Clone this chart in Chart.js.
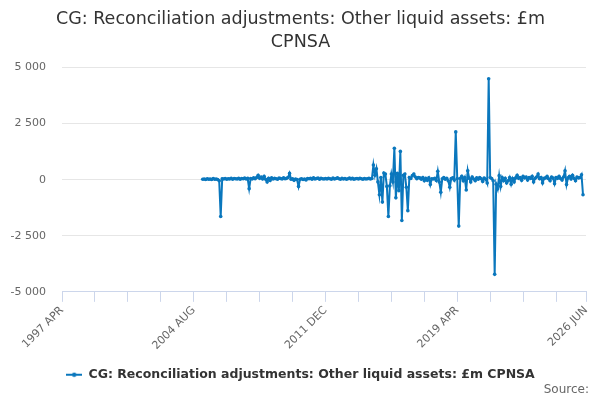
<!DOCTYPE html>
<html><head><meta charset="utf-8">
<script src="https://cdn.jsdelivr.net/npm/chart.js@4.4.1/dist/chart.umd.min.js"></script>
<style>html,body{margin:0;padding:0;background:#fff}</style>
</head><body>
<canvas id="c" width="600" height="400"></canvas>
<script>
// ---- text ----
const titleLines = ["CG: Reconciliation adjustments: Other liquid assets: £m", "CPNSA"];
const seriesName = "CG: Reconciliation adjustments: Other liquid assets: £m CPNSA";
const sourceText = "Source:";

// ---- axis categories ----
const monthNames = ["JAN","FEB","MAR","APR","MAY","JUN","JUL","AUG","SEP","OCT","NOV","DEC"];
const axisStart = [1997, 3];   // 1997 APR
const axisEnd = [2026, 5];     // 2026 JUN
const dataStart = [2005, 1];   // 2005 FEB
const xLabelTicks = ["1997 APR", "2004 AUG", "2011 DEC", "2019 APR", "2026 JUN"];
const tickStepMonths = 22;
const yTicks = [-5000, -2500, 0, 2500, 5000];

// ---- series values (£m), monthly from 2005 FEB ----
const v2005 = [20, 30, 10, 40, 20, 30, 10, 50, 20, 30, 10];
const v2006 = [-50, -1640, 40, 30, 50, 20, 40, 30, 60, 20, 50, 40];
const v2007 = [30, 60, 20, 50, 40, 70, 30, 60, -400, 50, 30, 80];
const v2008 = [40, 100, 200, 60, 120, 30, 150, 20, -100, 60, -40, 80];
const v2009 = [30, 60, 40, 20, 70, 50, 30, 80, 40, 60, 100, 280];
const v2010 = [20, 40, -30, 30, 10, -300, 20, 40, 10, 30, -10, 50];
const v2011 = [40, 60, 20, 80, 30, 50, 70, 20, 60, 40, 30, 50];
const v2012 = [30, 60, 40, 20, 70, 30, 50, 80, 40, 20, 60, 30];
const v2013 = [50, 20, 40, 70, 30, 60, 20, 40, 50, 30, 60, 40];
const v2014 = [20, 50, 30, 40, 60, 30, 50, 650, 200, 490, -100, -670];
const v2015 = [100, -1000, 300, 250, -300, -1640, -270, 250, -100, 1400, -810, 280];
const v2016 = [-490, 1260, -1820, 200, 250, -340, -1380, 100, 50, 180, 250, 120];
const v2017 = [40, 100, 80, 20, 100, -50, 60, -30, 80, -220, 40, 30];
const v2018 = [60, -40, 370, -100, -560, 40, 100, 20, 60, -50, -340, 50];
const v2019 = [80, -20, 2130, 50, -2070, 50, 150, -50, 100, -460, 400, 60];
const v2020 = [-100, 120, 30, -50, 80, 20, 100, 40, -80, 70, 20, -150];
const v2021 = [4500, 100, 50, -50, -4220, -200, -410, 180, -300, 100, -50, 60];
const v2022 = [-150, -50, 100, -200, 50, -100, 80, 200, 60, 100, -30, 150];
const v2023 = [80, 120, -20, 100, 50, 150, -100, 60, 120, 250, 40, 100];
const v2024 = [-150, 60, 80, 150, 40, -50, 120, 70, -180, 100, 60, 150];
const v2025 = [50, -20, 120, 400, -220, 80, 150, 30, 200, 60, -50, 120];
const v2026 = [80, 100, 220, -670];

const values = [].concat(v2005, v2006, v2007, v2008, v2009, v2010, v2011, v2012,
  v2013, v2014, v2015, v2016, v2017, v2018, v2019, v2020, v2021, v2022, v2023,
  v2024, v2025, v2026);

// build category labels and aligned data
const labels = [];
for (let y = axisStart[0], m = axisStart[1]; y < axisEnd[0] || (y === axisEnd[0] && m <= axisEnd[1]); ) {
  labels.push(y + " " + monthNames[m]);
  m++; if (m > 11) { m = 0; y++; }
}
const startIdx = labels.indexOf(dataStart[0] + " " + monthNames[dataStart[1]]);
const data = labels.map((_, i) => {
  const k = i - startIdx;
  return (k >= 0 && k < values.length) ? values[k] : null;
});

const fmt = v => {
  const s = Math.abs(v).toString().replace(/\B(?=(\d{3})+(?!\d))/g, " ");
  return (v < 0 ? "-" : "") + s;
};

const FONT = "'DejaVu Sans', sans-serif";
const BLUE = "#0a77bd";

// legend marker: short line with a dot (series style)
const marker = document.createElement("canvas");
marker.width = 16; marker.height = 6;
(function () {
  const m = marker.getContext("2d");
  m.strokeStyle = BLUE; m.lineWidth = 2;
  m.beginPath(); m.moveTo(0, 3); m.lineTo(16, 3); m.stroke();
  m.fillStyle = BLUE;
  m.beginPath(); m.arc(8, 3, 2.2, 0, Math.PI * 2); m.fill();
})();

const sourcePlugin = {
  id: "sourceText",
  afterLayout(chart) {
    // widen the y-axis label clip area to the left so long labels are not cut
    const y = chart.scales.y;
    y.left = 0;
  },
  afterDraw(chart) {
    const c = chart.ctx;
    c.save();
    c.font = "12px " + FONT;
    c.fillStyle = "#666666";
    c.textAlign = "right";
    c.textBaseline = "middle";
    c.fillText(sourceText, 589, 390);
    c.restore();
  }
};

new Chart(document.getElementById("c"), {
  type: "line",
  data: {
    labels: labels,
    datasets: [{
      label: seriesName,
      data: data,
      borderColor: BLUE,
      backgroundColor: BLUE,
      borderWidth: 2,
      pointRadius: 1.8,
      pointBorderWidth: 0,
      pointBackgroundColor: BLUE,
      spanGaps: false,
      tension: 0
    }]
  },
  options: {
    responsive: false,
    animation: false,
    devicePixelRatio: 1,
    layout: { padding: { left: 15, right: 14, top: 0, bottom: 9 } },
    plugins: {
      tooltip: { enabled: false },
      title: {
        display: true,
        text: titleLines,
        color: "#333333",
        font: { family: FONT, size: 17.5, weight: "normal", lineHeight: 1.314 },
        padding: { top: 8, bottom: 13.5 }
      },
      legend: {
        position: "bottom",
        labels: {
          color: "#333333",
          font: { family: FONT, size: 12.5, weight: "bold" },
          usePointStyle: true,
          pointStyle: marker,
          pointStyleWidth: 16,
          padding: 14
        }
      }
    },
    scales: {
      x: {
        type: "category",
        offset: false,
        afterFit: s => { s.paddingLeft = 0; s.paddingRight = 0; },
        border: { display: true, color: "#ccd6eb", width: 1 },
        grid: {
          display: true,
          drawOnChartArea: false,
          drawTicks: true,
          tickLength: 10,
          tickWidth: 1,
          tickColor: ctx => {
            const i = ctx.index;
            return (i % tickStepMonths === 0 || i === labels.length - 1) ? "#ccd6eb" : "rgba(0,0,0,0)";
          }
        },
        ticks: {
          autoSkip: false,
          maxRotation: 45,
          minRotation: 45,
          padding: 2,
          color: "#666666",
          font: { family: FONT, size: 11 },
          callback: function (val, i) {
            const l = labels[i];
            return xLabelTicks.includes(l) ? l : "";
          }
        }
      },
      y: {
        min: -5000,
        max: 5000,
        afterFit: s => { s.width = 47; },
        border: { display: false },
        grid: { color: "#e6e6e6", drawTicks: false, lineWidth: 1 },
        afterBuildTicks: axis => { axis.ticks = yTicks.map(v => ({ value: v })); },
        ticks: {
          padding: 16,
          color: "#666666",
          font: { family: FONT, size: 11 },
          callback: v => fmt(v)
        }
      }
    }
  },
  plugins: [sourcePlugin]
});
</script>
</body></html>
